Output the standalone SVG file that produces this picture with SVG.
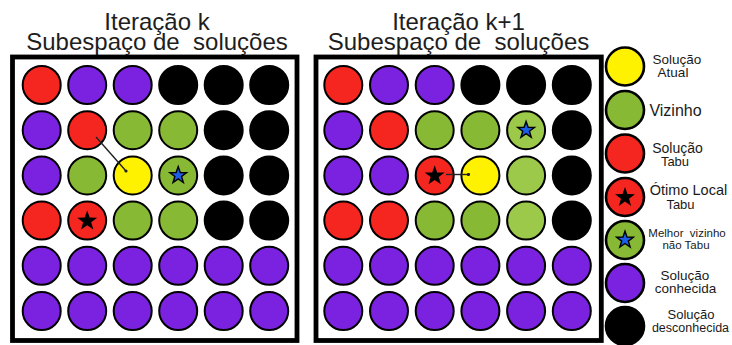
<svg xmlns="http://www.w3.org/2000/svg" width="732" height="345" viewBox="0 0 732 345">
<defs>
<style>
.bg{fill:#fff}
.box{fill:#fff;stroke:#000;stroke-width:4.8}
.c{stroke:#000;stroke-width:2}
.lc{stroke:#000;stroke-width:2.6}
.r{fill:#f4261f}
.p{fill:#7a22df}
.g{fill:#88b935}
.g2{fill:#9cc94a}
.y{fill:#fff200}
.k{fill:#000}
.title{font-family:"Liberation Sans",Arial,sans-serif;font-size:24px;fill:#1e1e1e;text-anchor:middle}
.lt{font-family:"Liberation Sans",Arial,sans-serif;fill:#1a1a1a;text-anchor:middle}
.conn{stroke:#222;stroke-width:1.4;fill:none}
.sk{fill:#000}
.sb{fill:#1c5fe6;stroke:#000;stroke-width:1.6}
</style>
<polygon id="star" points="0,-10 2.351,-3.236 9.511,-3.090 3.804,1.236 5.878,8.090 0,4 -5.878,8.090 -3.804,1.236 -9.511,-3.090 -2.351,-3.236"/>
<marker id="dot" markerWidth="4" markerHeight="4" refX="2" refY="2" markerUnits="userSpaceOnUse">
<circle cx="2" cy="2" r="1.6" fill="#222"/>
</marker>
</defs>
<rect class="bg" x="0" y="0" width="732" height="345"/>

<g id="titles">
<text class="title" x="157" y="29.5">Iteração k</text>
<text class="title" x="157" y="50">Subespaço de&#160; soluções</text>
<text class="title" x="458.5" y="29.5">Iteração k+1</text>
<text class="title" x="458.5" y="50">Subespaço de&#160; soluções</text>
</g>

<g id="panel-k">
<rect class="box" x="12.5" y="57" width="284.5" height="283.5"/>
<g id="k-r1c1"><circle class="c r" cx="41.7" cy="85" r="19"/></g>
<g id="k-r1c2"><circle class="c p" cx="87.2" cy="85" r="19"/></g>
<g id="k-r1c3"><circle class="c p" cx="132.7" cy="85" r="19"/></g>
<g id="k-r1c4"><circle class="c k" cx="178.2" cy="85" r="19"/></g>
<g id="k-r1c5"><circle class="c k" cx="223.7" cy="85" r="19"/></g>
<g id="k-r1c6"><circle class="c k" cx="269.2" cy="85" r="19"/></g>

<g id="k-r2c1"><circle class="c p" cx="41.7" cy="130.2" r="19"/></g>
<g id="k-r2c2"><circle class="c r" cx="87.2" cy="130.2" r="19"/></g>
<g id="k-r2c3"><circle class="c g" cx="132.7" cy="130.2" r="19"/></g>
<g id="k-r2c4"><circle class="c g" cx="178.2" cy="130.2" r="19"/></g>
<g id="k-r2c5"><circle class="c k" cx="223.7" cy="130.2" r="19"/></g>
<g id="k-r2c6"><circle class="c k" cx="269.2" cy="130.2" r="19"/></g>

<g id="k-r3c1"><circle class="c p" cx="41.7" cy="175.4" r="19"/></g>
<g id="k-r3c2"><circle class="c g" cx="87.2" cy="175.4" r="19"/></g>
<g id="k-r3c3"><circle class="c y" cx="132.7" cy="175.4" r="19"/></g>
<g id="k-r3c4"><circle class="c g" cx="178.2" cy="175.4" r="19"/><use href="#star" class="sb" transform="translate(178.2,175.4) scale(0.88)"/></g>
<g id="k-r3c5"><circle class="c k" cx="223.7" cy="175.4" r="19"/></g>
<g id="k-r3c6"><circle class="c k" cx="269.2" cy="175.4" r="19"/></g>

<g id="k-r4c1"><circle class="c r" cx="41.7" cy="220.6" r="19"/></g>
<g id="k-r4c2"><circle class="c r" cx="87.2" cy="220.6" r="19"/><use href="#star" class="sk" transform="translate(87.2,221) scale(1.05)"/></g>
<g id="k-r4c3"><circle class="c g" cx="132.7" cy="220.6" r="19"/></g>
<g id="k-r4c4"><circle class="c g" cx="178.2" cy="220.6" r="19"/></g>
<g id="k-r4c5"><circle class="c k" cx="223.7" cy="220.6" r="19"/></g>
<g id="k-r4c6"><circle class="c k" cx="269.2" cy="220.6" r="19"/></g>

<g id="k-r5c1"><circle class="c p" cx="41.7" cy="265.8" r="19"/></g>
<g id="k-r5c2"><circle class="c p" cx="87.2" cy="265.8" r="19"/></g>
<g id="k-r5c3"><circle class="c p" cx="132.7" cy="265.8" r="19"/></g>
<g id="k-r5c4"><circle class="c p" cx="178.2" cy="265.8" r="19"/></g>
<g id="k-r5c5"><circle class="c p" cx="223.7" cy="265.8" r="19"/></g>
<g id="k-r5c6"><circle class="c p" cx="269.2" cy="265.8" r="19"/></g>

<g id="k-r6c1"><circle class="c p" cx="41.7" cy="311" r="19"/></g>
<g id="k-r6c2"><circle class="c p" cx="87.2" cy="311" r="19"/></g>
<g id="k-r6c3"><circle class="c p" cx="132.7" cy="311" r="19"/></g>
<g id="k-r6c4"><circle class="c p" cx="178.2" cy="311" r="19"/></g>
<g id="k-r6c5"><circle class="c p" cx="223.7" cy="311" r="19"/></g>
<g id="k-r6c6"><circle class="c p" cx="269.2" cy="311" r="19"/></g>
</g>

<g id="panel-k1">
<rect class="box" x="316" y="57" width="285.3" height="283.5"/>
<g id="k1-r1c1"><circle class="c r" cx="343.3" cy="85" r="19"/></g>
<g id="k1-r1c2"><circle class="c p" cx="389" cy="85" r="19"/></g>
<g id="k1-r1c3"><circle class="c p" cx="434.7" cy="85" r="19"/></g>
<g id="k1-r1c4"><circle class="c k" cx="480.4" cy="85" r="19"/></g>
<g id="k1-r1c5"><circle class="c k" cx="526.1" cy="85" r="19"/></g>
<g id="k1-r1c6"><circle class="c k" cx="571.8" cy="85" r="19"/></g>

<g id="k1-r2c1"><circle class="c p" cx="343.3" cy="130.2" r="19"/></g>
<g id="k1-r2c2"><circle class="c r" cx="389" cy="130.2" r="19"/></g>
<g id="k1-r2c3"><circle class="c g" cx="434.7" cy="130.2" r="19"/></g>
<g id="k1-r2c4"><circle class="c g" cx="480.4" cy="130.2" r="19"/></g>
<g id="k1-r2c5"><circle class="c g2" cx="526.1" cy="130.2" r="19"/><use href="#star" class="sb" transform="translate(526.1,130.2) scale(0.88)"/></g>
<g id="k1-r2c6"><circle class="c k" cx="571.8" cy="130.2" r="19"/></g>

<g id="k1-r3c1"><circle class="c p" cx="343.3" cy="175.4" r="19"/></g>
<g id="k1-r3c2"><circle class="c p" cx="389" cy="175.4" r="19"/></g>
<g id="k1-r3c3"><circle class="c r" cx="434.7" cy="175.4" r="19"/><use href="#star" class="sk" transform="translate(434.7,175.8) scale(1.05)"/></g>
<g id="k1-r3c4"><circle class="c y" cx="480.4" cy="175.4" r="19"/></g>
<g id="k1-r3c5"><circle class="c g2" cx="526.1" cy="175.4" r="19"/></g>
<g id="k1-r3c6"><circle class="c k" cx="571.8" cy="175.4" r="19"/></g>

<g id="k1-r4c1"><circle class="c r" cx="343.3" cy="220.6" r="19"/></g>
<g id="k1-r4c2"><circle class="c r" cx="389" cy="220.6" r="19"/></g>
<g id="k1-r4c3"><circle class="c g" cx="434.7" cy="220.6" r="19"/></g>
<g id="k1-r4c4"><circle class="c g" cx="480.4" cy="220.6" r="19"/></g>
<g id="k1-r4c5"><circle class="c g2" cx="526.1" cy="220.6" r="19"/></g>
<g id="k1-r4c6"><circle class="c k" cx="571.8" cy="220.6" r="19"/></g>

<g id="k1-r5c1"><circle class="c p" cx="343.3" cy="265.8" r="19"/></g>
<g id="k1-r5c2"><circle class="c p" cx="389" cy="265.8" r="19"/></g>
<g id="k1-r5c3"><circle class="c p" cx="434.7" cy="265.8" r="19"/></g>
<g id="k1-r5c4"><circle class="c p" cx="480.4" cy="265.8" r="19"/></g>
<g id="k1-r5c5"><circle class="c p" cx="526.1" cy="265.8" r="19"/></g>
<g id="k1-r5c6"><circle class="c p" cx="571.8" cy="265.8" r="19"/></g>

<g id="k1-r6c1"><circle class="c p" cx="343.3" cy="311" r="19"/></g>
<g id="k1-r6c2"><circle class="c p" cx="389" cy="311" r="19"/></g>
<g id="k1-r6c3"><circle class="c p" cx="434.7" cy="311" r="19"/></g>
<g id="k1-r6c4"><circle class="c p" cx="480.4" cy="311" r="19"/></g>
<g id="k1-r6c5"><circle class="c p" cx="526.1" cy="311" r="19"/></g>
<g id="k1-r6c6"><circle class="c p" cx="571.8" cy="311" r="19"/></g>
</g>

<g id="connectors">
<line class="conn" x1="96" y1="137" x2="126" y2="171" marker-end="url(#dot)"/>
<line class="conn" x1="446" y1="174.5" x2="468.5" y2="174.5" marker-end="url(#dot)"/>
</g>

<g id="legend">
<g id="leg-atual"><circle class="lc y" cx="625" cy="66.5" r="19"/>
<text class="lt" x="677" y="63.5" font-size="13.5">Solução</text>
<text class="lt" x="673" y="77" font-size="13.5">Atual</text></g>
<g id="leg-vizinho"><circle class="lc g" cx="625" cy="110" r="19"/>
<text class="lt" x="675.5" y="115.5" font-size="16">Vizinho</text></g>
<g id="leg-tabu"><circle class="lc r" cx="625" cy="153.5" r="19"/>
<text class="lt" x="677.5" y="153" font-size="14">Solução</text>
<text class="lt" x="675" y="166" font-size="13">Tabu</text></g>
<g id="leg-otimo"><circle class="lc r" cx="625" cy="197" r="19"/><use href="#star" class="sk" transform="translate(625,197.4) scale(1.05)"/>
<text class="lt" x="688.5" y="195" font-size="14.5">Ótimo Local</text>
<text class="lt" x="680.5" y="208.5" font-size="13">Tabu</text></g>
<g id="leg-melhor"><circle class="lc g" cx="625" cy="240" r="19"/><use href="#star" class="sb" transform="translate(625,240) scale(0.88)"/>
<text class="lt" x="687" y="237" font-size="11.5">Melhor&#160; vizinho</text>
<text class="lt" x="686" y="248.5" font-size="11.5">não Tabu</text></g>
<g id="leg-conhecida"><circle class="lc p" cx="625" cy="283" r="19"/>
<text class="lt" x="685" y="279.5" font-size="13.5">Solução</text>
<text class="lt" x="685.5" y="293" font-size="13.5">conhecida</text></g>
<g id="leg-desconhecida"><circle class="lc k" cx="625" cy="326" r="19"/>
<text class="lt" x="691" y="318.5" font-size="13">Solução</text>
<text class="lt" x="690.5" y="332" font-size="12.5">desconhecida</text></g>
</g>
</svg>
